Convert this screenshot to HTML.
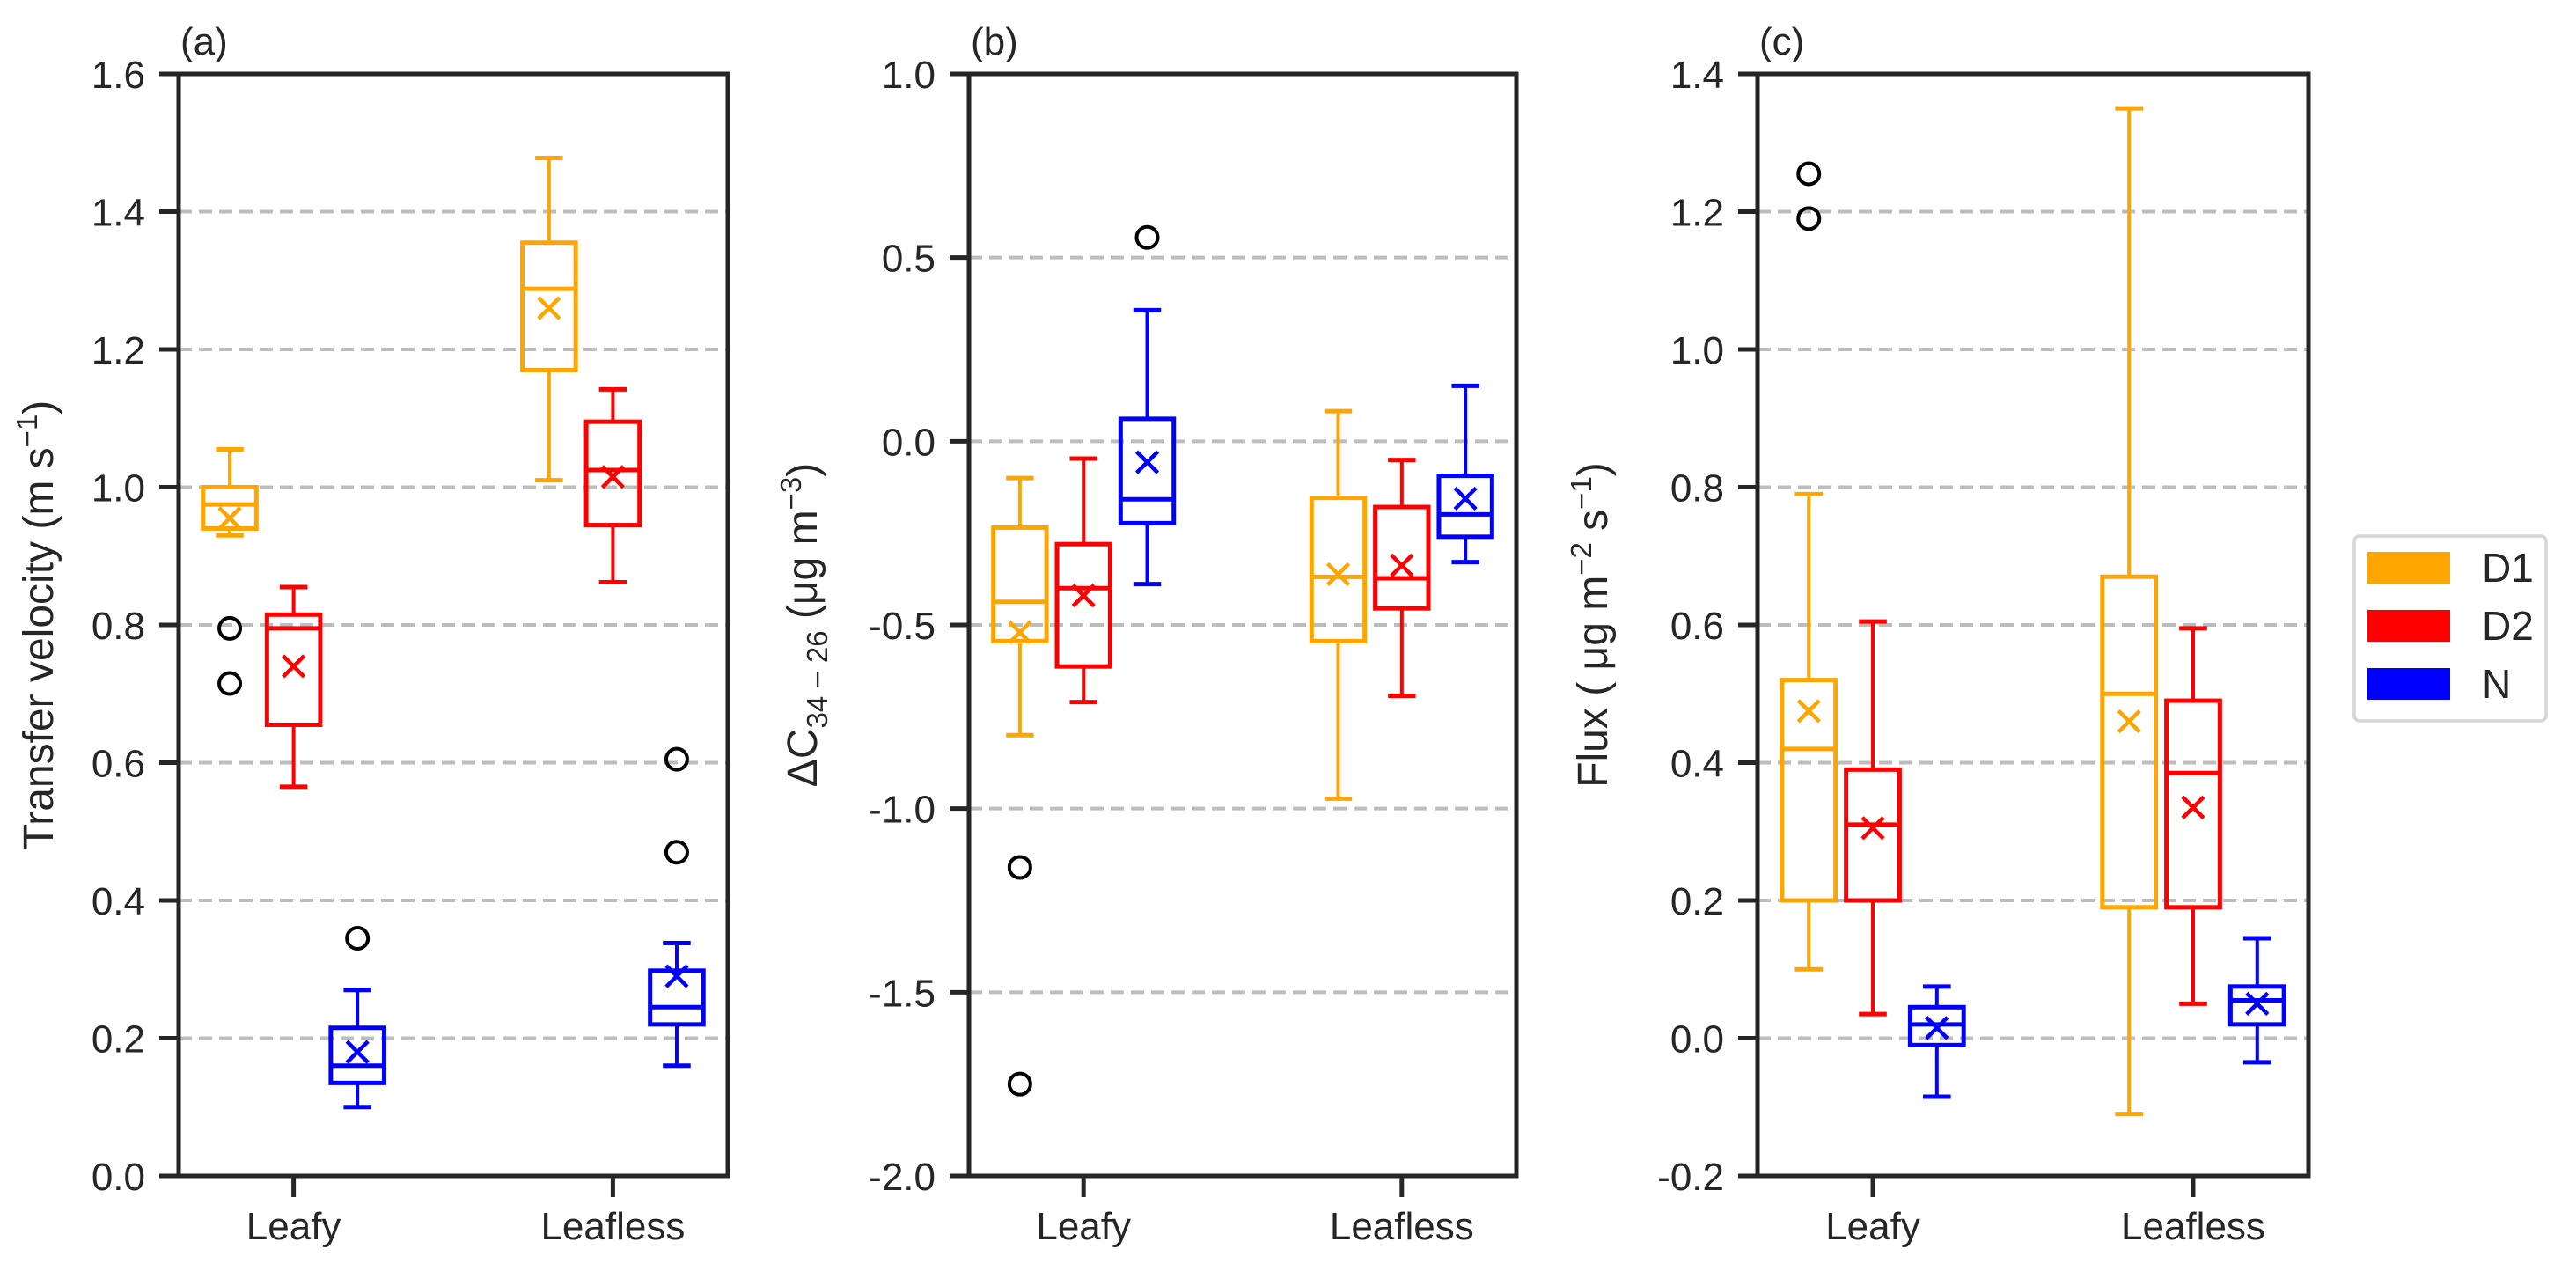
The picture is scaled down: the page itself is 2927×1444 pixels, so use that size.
<!DOCTYPE html>
<html><head><meta charset="utf-8"><style>
html,body{margin:0;padding:0;background:#fff}
svg{display:block}
text{font-family:"Liberation Sans",sans-serif;fill:#262626}
</style></head><body>
<svg id="chart" width="2927" height="1444" viewBox="0 0 2927 1444" xmlns="http://www.w3.org/2000/svg"></svg>
<script>
const categories = ["Leafy","Leafless"];
const seriesNames = ["D1","D2","N"];
const seriesColors = ["#FFA500","#FF0000","#0000FF"];
// [whiskerLow, q1, median, q3, whiskerHigh, mean] per series per category
const aD1 = [[0.93,0.94,0.975,1.0,1.055,0.955],[1.01,1.17,1.288,1.355,1.478,1.26]];
const aD2 = [[0.565,0.655,0.795,0.815,0.855,0.74],[0.862,0.945,1.025,1.095,1.142,1.015]];
const aN  = [[0.10,0.135,0.16,0.215,0.27,0.18],[0.16,0.22,0.245,0.298,0.338,0.29]];
const aOut = [[[0.795,0.715],[],[0.345]],[[],[],[0.605,0.47]]];
const bD1 = [[-0.80,-0.544,-0.437,-0.235,-0.10,-0.52],[-0.973,-0.544,-0.369,-0.154,0.082,-0.362]];
const bD2 = [[-0.71,-0.613,-0.40,-0.28,-0.047,-0.42],[-0.693,-0.455,-0.373,-0.179,-0.051,-0.338]];
const bN  = [[-0.389,-0.223,-0.158,0.061,0.357,-0.057],[-0.329,-0.26,-0.199,-0.094,0.151,-0.156]];
const bOut = [[[-1.16,-1.75],[],[0.555]],[[],[],[]]];
const cD1 = [[0.10,0.20,0.42,0.52,0.79,0.475],[-0.11,0.19,0.50,0.67,1.35,0.46]];
const cD2 = [[0.035,0.20,0.31,0.39,0.605,0.305],[0.05,0.19,0.385,0.49,0.595,0.335]];
const cN  = [[-0.085,-0.01,0.02,0.045,0.075,0.015],[-0.035,0.02,0.055,0.075,0.145,0.05]];
const cOut = [[[1.19,1.255],[],[]],[[],[],[]]];
const aTicks = ["0.0","0.2","0.4","0.6","0.8","1.0","1.2","1.4","1.6"];
const bTicks = ["-2.0","-1.5","-1.0","-0.5","0.0","0.5","1.0"];
const cTicks = ["-0.2","0.0","0.2","0.4","0.6","0.8","1.0","1.2","1.4"];

const NS="http://www.w3.org/2000/svg";
const svg=document.getElementById('chart');
function mk(tag,attrs,parent){const e=document.createElementNS(NS,tag);for(const k in attrs)e.setAttribute(k,attrs[k]);(parent||svg).appendChild(e);return e;}

const panels=[
 {id:"a",left:203,right:827,ymin:0,ymax:1.6,ticks:aTicks,data:[aD1,aD2,aN],out:aOut,label:'a'},
 {id:"b",left:1101,right:1723,ymin:-2,ymax:1,ticks:bTicks,data:[bD1,bD2,bN],out:bOut,label:'b'},
 {id:"c",left:1997,right:2623,ymin:-0.2,ymax:1.4,ticks:cTicks,data:[cD1,cD2,cN],out:cOut,label:'c'}
];
const TOP=84,BOT=1336;
const offsets=[-0.2,0,0.2];
panels.forEach(p=>{
  const g=mk('g',{});
  
  
  const X=v=>p.left+(v+0.36)/1.72*(p.right-p.left);
  const Y=v=>BOT-(v-p.ymin)/(p.ymax-p.ymin)*(BOT-TOP);
  const bw=(0.167/1.72)*(p.right-p.left), cw=bw*0.52;
  p.ticks.forEach(t=>{
    const v=parseFloat(t),y=Y(v);
    if(v>p.ymin+1e-9&&v<p.ymax-1e-9){
      const gl=mk('line',{x1:p.left,x2:p.right,y1:y,y2:y,stroke:'#bdbdbd','stroke-width':4,'stroke-dasharray':'15,8'},g);
      
      
    }
    const tk=mk('line',{x1:p.left-22,x2:p.left,y1:y,y2:y,stroke:'#262626','stroke-width':5},g);
    
    
    const tl=mk('text',{x:p.left-38,y:y+16,'text-anchor':'end','font-size':44},g);
    tl.textContent=t;
    
    
  });
  categories.forEach((c,i)=>{
    const x=X(i);
    const tk=mk('line',{x1:x,x2:x,y1:BOT,y2:BOT+24,stroke:'#262626','stroke-width':5},g);
    
    
    const tl=mk('text',{x:x,y:BOT+72,'text-anchor':'middle','font-size':44},g);
    tl.textContent=c;
    
    
  });
  p.data.forEach((ser,si)=>{
    const col=seriesColors[si];
    ser.forEach((d,ci)=>{
      const cx=X(ci+offsets[si]);
      const bg=mk('g',{stroke:col,'stroke-width':5,fill:'none'},g);
      
      
      mk('line',{x1:cx,x2:cx,y1:Y(d[0]),y2:Y(d[1]),'stroke-width':4},bg);
      mk('line',{x1:cx,x2:cx,y1:Y(d[3]),y2:Y(d[4]),'stroke-width':4},bg);
      mk('line',{x1:cx-cw/2,x2:cx+cw/2,y1:Y(d[0]),y2:Y(d[0])},bg);
      mk('line',{x1:cx-cw/2,x2:cx+cw/2,y1:Y(d[4]),y2:Y(d[4])},bg);
      mk('rect',{x:cx-bw/2,y:Y(d[3]),width:bw,height:Y(d[1])-Y(d[3])},bg);
      mk('line',{x1:cx-bw/2,x2:cx+bw/2,y1:Y(d[2]),y2:Y(d[2])},bg);
      const m=12,my=Y(d[5]);
      mk('path',{d:`M${cx-m},${my-m}L${cx+m},${my+m}M${cx-m},${my+m}L${cx+m},${my-m}`,'stroke-width':4.5},bg);
      p.out[ci][si].forEach(o=>{
        const oc=mk('circle',{cx:cx,cy:Y(o),r:12,stroke:'#000','stroke-width':4,fill:'none'},g);
        
        
      });
    });
  });
  const fr=mk('rect',{x:p.left,y:TOP,width:p.right-p.left,height:BOT-TOP,fill:'none',stroke:'#262626','stroke-width':5},g);
  
  
  const pl=mk('text',{x:p.left+2,y:62,'font-size':44},g);
  pl.textContent='('+p.label+')';
  
  
});
function ytitle(x,html,name){
  const t=mk('text',{x:0,y:0,'text-anchor':'middle','font-size':48,transform:`translate(${x},${(TOP+BOT)/2}) rotate(-90)`});
  t.innerHTML=html;
  
  
}
ytitle(60,'Transfer velocity (m s<tspan dy="-18" font-size="33">−1</tspan><tspan dy="18">)</tspan>','y-axis-title-a');
ytitle(928,'ΔC<tspan dy="12" font-size="33">34 − 26</tspan><tspan dy="-12"> (μg m</tspan><tspan dy="-18" font-size="33">−3</tspan><tspan dy="18">)</tspan>','y-axis-title-b');
ytitle(1826,'Flux ( μg m<tspan dy="-18" font-size="33">−2</tspan><tspan dy="18"> s</tspan><tspan dy="-18" font-size="33">−1</tspan><tspan dy="18">)</tspan>','y-axis-title-c');
const lg=mk('g',{});


mk('rect',{x:2675,y:609,width:218,height:210,rx:6,fill:'#fff',stroke:'#d6d6d6','stroke-width':3.5},lg);
seriesNames.forEach((n,i)=>{
  const e=mk('g',{},lg);
  
  
  mk('rect',{x:2690,y:627+i*66,width:94,height:36,fill:seriesColors[i]},e);
  const t=mk('text',{x:2820,y:661+i*66,'font-size':46},e);
  t.textContent=n;
});
</script>
</body></html>
